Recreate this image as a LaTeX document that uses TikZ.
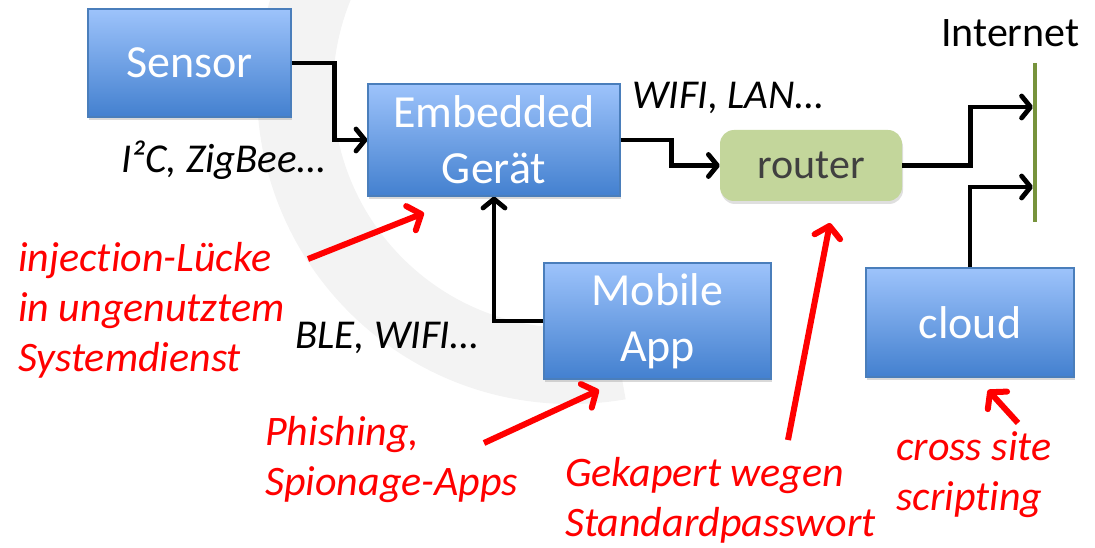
\documentclass[tikz,border=0pt]{standalone}
\usepackage{fontspec}
\setmainfont{Carlito}[Ligatures=NoCommon]
\usetikzlibrary{arrows.meta,shadows}
\definecolor{boxtop}{HTML}{9DC3FB}
\definecolor{boxbot}{HTML}{4380CF}
\definecolor{boxline}{HTML}{4A7EBB}
\definecolor{routerfill}{HTML}{C3D69B}
\definecolor{routertext}{HTML}{404040}
\definecolor{inetgreen}{HTML}{77933C}
\definecolor{attack}{HTML}{FF0000}
\definecolor{wm}{HTML}{F3F3F3}
\begin{document}
\begin{tikzpicture}[x=1pt,y=-1pt,
  bluebox/.style={draw=boxline, line width=1.2pt, top color=boxtop, bottom color=boxbot,
    text=white, align=center, inner sep=0pt, font=\fontsize{46}{56}\selectfont,
    drop shadow={shadow xshift=1pt, shadow yshift=-3pt, opacity=.3}},
  routerbox/.style={fill=routerfill, rounded corners=14pt, text=routertext, inner sep=0pt,
    font=\fontsize{42}{50}\selectfont,
    drop shadow={shadow xshift=1pt, shadow yshift=-3pt, opacity=.25}},
  conn/.style={line width=4.8pt, draw=black, -{Straight Barb[length=9pt,width=22pt,round]}},
  attackarrow/.style={line width=6pt, draw=attack, -{Straight Barb[length=11pt,width=26pt,round]}},
  proto/.style={font=\itshape\fontsize{41}{48}\selectfont, inner sep=0pt, anchor=base west},
  attacklbl/.style={font=\itshape\fontsize{42}{50}\selectfont, text=attack, inner sep=0pt, align=left, anchor=base west},
  inetline/.style={line width=4pt, draw=inetgreen}
]
\useasboundingbox (0,0) rectangle (1095,548);
% faint background watermark
\begin{scope}
  \clip (0,0) rectangle (1095,548);
  \clip (571,90) -- (745,1075) -- (-600,1075) -- (-600,-850) -- (229,-850) -- cycle;
  \fill[wm, even odd rule] (571,90) circle[radius=314pt] (571,90) circle[radius=238pt];
\end{scope}

% boxes
\node[bluebox, minimum width=203pt, minimum height=108pt] (sensor) at (189.5,63) {Sensor};
\node[bluebox, minimum width=252pt, minimum height=112pt] (emb) at (494,140) {Embedded\\Gerät};
\node[routerbox, minimum width=182pt, minimum height=71pt] (router) at (811,165.5) {router};
\node[bluebox, minimum width=227pt, minimum height=116pt] (mobile) at (657.5,321) {Mobile\\App};
\node[bluebox, minimum width=208pt, minimum height=109pt] (cloud) at (970,322.5) {cloud};

% internet
\coordinate (inettop) at (1035,63);
\coordinate (inetbot) at (1035,222);
\draw[inetline] (inettop) -- (inetbot);
\node[inner sep=0pt, anchor=base west, font=\fontsize{42}{50}\selectfont] (inetlbl) at (941,47) {Internet};
\coordinate (inet1) at (1033,107);
\coordinate (inet2) at (1033,187);

% connectors
\draw[conn] (sensor.east) -- ++(43,0) |- (emb.west);
\draw[conn] (emb.east) -- ++(51,0) |- (router.west);
\draw[conn] (router.east) -- ++(68,0) |- (inet1);
\draw[conn] (cloud.north) |- (inet2);
\draw[conn] (mobile.west) -| (emb.south);

% protocol labels
\node[proto] (p1) at (121,173) {I²C, ZigBee…};
\node[proto] (p2) at (632,109) {WIFI, LAN…};
\node[proto] (p3) at (295,348) {BLE, WIFI…};

% attack labels (anchor at baseline of the last line)
\node[attacklbl] (t1) at (18,371) {injection-Lücke\\in ungenutztem\\Systemdienst};
\node[attacklbl] (t2) at (265,495) {Phishing,\\Spionage-Apps};
\node[attacklbl] (t3) at (565,536) {Gekapert wegen\\Standardpasswort};
\node[attacklbl] (t4) at (896,510) {cross site\\scripting};

% attack arrows
\coordinate (a1s) at (308,259); \coordinate (a1e) at (424,213);
\coordinate (a2s) at (484,443); \coordinate (a2e) at (599,390);
\coordinate (a3s) at (788,440); \coordinate (a3e) at (830,223);
\coordinate (a4s) at (1018,423); \coordinate (a4e) at (988,390);
\draw[attackarrow] (a1s) -- (a1e);
\draw[attackarrow] (a2s) -- (a2e);
\draw[attackarrow] (a3s) -- (a3e);
\draw[attackarrow] (a4s) -- (a4e);
\end{tikzpicture}
\end{document}
